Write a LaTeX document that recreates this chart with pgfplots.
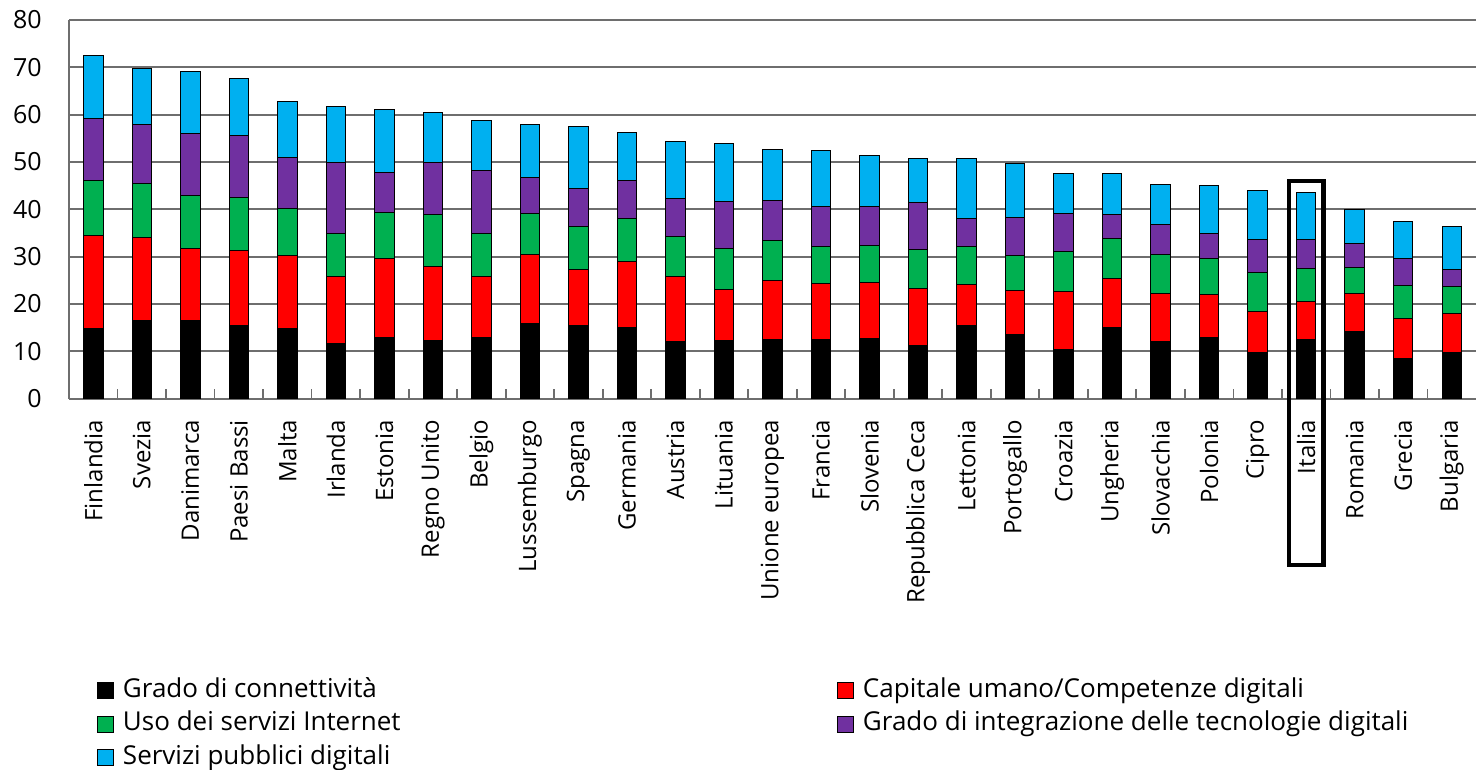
\documentclass[border=0pt]{standalone}
\usepackage{fontspec}
\setmainfont{Open Sans}
\usepackage{pgfplots}
\pgfplotsset{compat=1.18}
\usepackage{pgfplotstable}

\definecolor{cBlack}{HTML}{000000}
\definecolor{cRed}{HTML}{FF0000}
\definecolor{cGreen}{HTML}{00B050}
\definecolor{cPurple}{HTML}{7030A0}
\definecolor{cCyan}{HTML}{00B0F0}
\definecolor{gridc}{RGB}{110,110,110}

% columns: connettivita, capitale umano, uso internet, integrazione, servizi pubblici
\pgfplotstableread{
x a b c d e
0 14.8 19.7 11.5 13.2 13.2
1 16.4 17.6 11.5 12.4 11.9
2 16.6 15.1 11.2 13.2 13.0
3 15.4 15.8 11.2 13.3 11.9
4 14.8 15.4 9.9 10.9 11.8
5 11.6 14.1 9.1 15.0 11.9
6 13.0 16.7 9.7 8.4 13.2
7 12.2 15.7 10.9 11.0 10.7
8 13.0 12.7 9.1 13.3 10.6
9 15.9 14.6 8.6 7.6 11.3
10 15.4 11.8 9.2 8.1 12.9
11 15.1 13.9 9.1 7.9 10.2
12 12.1 13.8 8.3 8.0 12.2
13 12.3 10.8 8.6 9.9 12.3
14 12.5 12.4 8.6 8.4 10.8
15 12.5 11.9 7.8 8.4 11.8
16 12.8 11.8 7.8 8.2 10.8
17 11.2 12.1 8.2 9.9 9.3
18 15.5 8.7 8.0 5.9 12.6
19 13.5 9.3 7.4 8.1 11.3
20 10.4 12.2 8.4 8.1 8.4
21 15.0 10.4 8.4 5.0 8.7
22 12.1 10.2 8.1 6.4 8.4
23 13.0 9.1 7.6 5.1 10.2
24 9.7 8.8 8.1 7.0 10.3
25 12.5 8.0 6.9 6.2 10.0
26 14.2 8.1 5.4 5.1 7.1
27 8.4 8.6 6.8 5.9 7.7
28 9.7 8.3 5.6 3.6 9.1
}\data

\pgfplotsset{sqleg/.style={legend image code/.code={\draw[##1,draw=black,line width=0.5pt] (0pt,-4pt) rectangle (8pt,4pt);}}}

\begin{document}
\begin{tikzpicture}
\useasboundingbox (-34.5pt,-185.7pt) rectangle (703.5pt,199.3pt);
\begin{axis}[
  at={(0pt,0pt)}, anchor=south west,
  scale only axis, width=703.5pt, height=189.3pt,
  ybar stacked, bar width=9.75pt,
  xmin=-0.5, xmax=28.5, ymin=0, ymax=80,
  ytick={0,10,...,80},
  xtick={0,...,28},
  xticklabels={Finlandia,Svezia,Danimarca,Paesi Bassi,Malta,Irlanda,Estonia,Regno Unito,Belgio,Lussemburgo,Spagna,Germania,Austria,Lituania,Unione europea,Francia,Slovenia,Repubblica Ceca,Lettonia,Portogallo,Croazia,Ungheria,Slovacchia,Polonia,Cipro,Italia,Romania,Grecia,Bulgaria},
  minor xtick={0.5,1.5,...,27.5},
  axis lines*=left,
  axis line style={gridc, line width=0.9pt},
  ymajorgrids, grid style={gridc, line width=0.9pt},
  major tick length=0pt,
  minor tick length=5pt,
  tick align=inside,
  minor tick style={gridc, line width=0.9pt},
  tick label style={font=\fontsize{12.5}{15}\selectfont, text=black},
  xticklabel style={rotate=90, anchor=east, inner sep=0pt, font=\fontsize{12}{14.4}\selectfont},
  xticklabel shift=10.5pt,
  yticklabel style={anchor=east, inner sep=0pt},
  yticklabel shift=13.5pt,
  /pgf/number format/assume math mode=true,
  clip=false,
  legend columns=2,
  legend cell align=left,
  legend style={draw=none, fill=none, inner sep=0pt, outer sep=0pt,
    column sep=0pt, row sep=4.25pt,
    at={(0.0199,-0.738)}, anchor=north west,
    font=\fontsize{13}{15.6}\selectfont,
    nodes={inner xsep=4.5pt, inner ysep=0pt, text height=9.5pt, text depth=3pt}},
  every axis plot/.append style={draw=black, line width=0.5pt},
]
\addplot[fill=cBlack, sqleg] table[x=x, y=a] {\data};
\addlegendentry{\makebox[352.5pt][l]{Grado di connettività}}
\addplot[fill=cRed, sqleg] table[x=x, y=b] {\data};
\addlegendentry{Capitale umano/Competenze digitali}
\addplot[fill=cGreen, sqleg] table[x=x, y=c] {\data};
\addlegendentry{\makebox[352.5pt][l]{Uso dei servizi Internet}}
\addplot[fill=cPurple, sqleg] table[x=x, y=d] {\data};
\addlegendentry{Grado di integrazione delle tecnologie digitali}
\addplot[fill=cCyan, sqleg] table[x=x, y=e] {\data};
\addlegendentry{\makebox[352.5pt][l]{Servizi pubblici digitali}}
\draw[line width=2.2pt] (axis cs:24.64,46) rectangle (axis cs:25.36,-35.2);
\end{axis}
\end{tikzpicture}
\end{document}
